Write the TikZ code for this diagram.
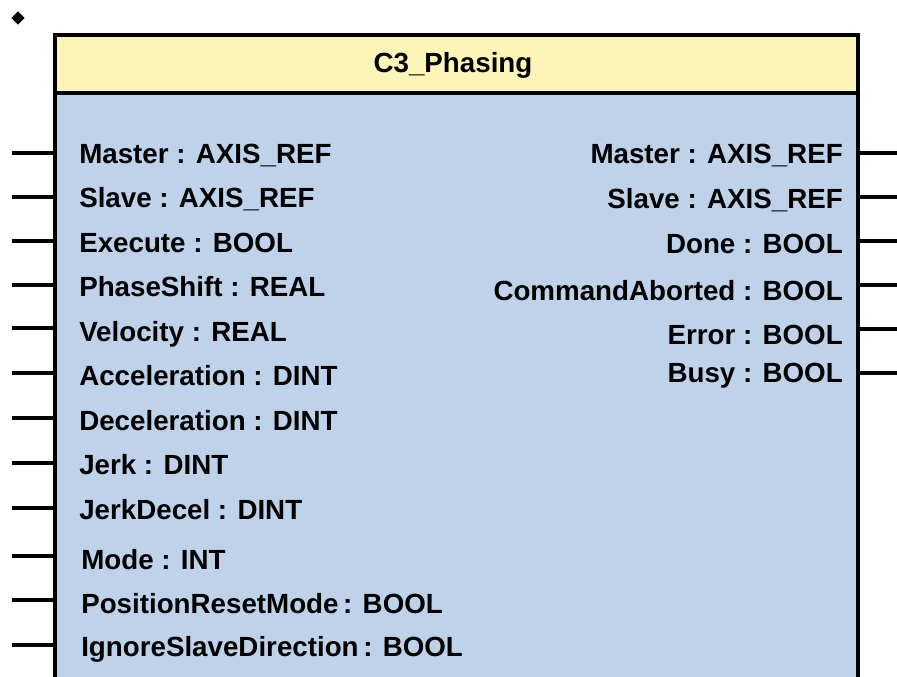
\documentclass[tikz,border=0pt]{standalone}
\usepackage{fontspec}
\setmainfont{Liberation Sans}
\usetikzlibrary{shapes.geometric}
\definecolor{hdr}{HTML}{FDF5B8}
\definecolor{bdy}{HTML}{BED2EA}
\begin{document}
\begin{tikzpicture}[x=0.75pt,y=-0.75pt,
  pin/.style={line width=2.4pt},
  lbl/.style={font=\bfseries\fontsize{20.8}{24}\selectfont, inner sep=0pt},
  lin/.style={lbl, anchor=base west},
  rout/.style={lbl, anchor=base east}]
\useasboundingbox (0,0) rectangle (897,676);
\clip (0,0) rectangle (897,676);
\node[diamond, fill=black, inner sep=0pt, minimum size=10pt] (dia) at (18,18) {};
% body and header
\fill[bdy] (55,93) rectangle (858,700);
\fill[hdr] (55,35) rectangle (858,93);
\draw[line width=2.4pt] (55,700) -- (55,35) -- (858,35) -- (858,700);
\draw[line width=2.4pt] (55,93) -- (858,93);
\node[lbl, anchor=base] (title) at (453,72) {C3\_Phasing};
% left pins
\foreach \y/\t/\ty/\tx [count=\i] in {
  153/{Master : AXIS\_REF}/153/79,
  197/{Slave : AXIS\_REF}/197/79,
  241/{Execute : BOOL}/242/79,
  285/{PhaseShift : REAL}/286/79,
  328/{Velocity : REAL}/331/79,
  373/{Acceleration : DINT}/375/79,
  418/{Deceleration : DINT}/420/79,
  463/{Jerk : DINT}/464/79,
  508/{JerkDecel : DINT}/509/79,
  556/{Mode : INT}/559/81,
  600/{PositionResetMode\,: BOOL}/603/81,
  645/{IgnoreSlaveDirection\,: BOOL}/646/81}{
  \coordinate (li\i) at (12,\y);
  \coordinate (lb\i) at (55,\y);
  \draw[pin] (li\i) -- (lb\i);
  \node[lin] (lt\i) at (\tx,\ty+10) {\t};
}
% right pins
\foreach \y/\t/\ty [count=\i] in {
  153/{Master : AXIS\_REF}/153,
  197/{Slave : AXIS\_REF}/198,
  241/{Done : BOOL}/243,
  285/{CommandAborted : BOOL}/290,
  329/{Error : BOOL}/334,
  373/{Busy : BOOL}/372}{
  \coordinate (ro\i) at (897,\y);
  \coordinate (rb\i) at (858,\y);
  \draw[pin] (rb\i) -- (ro\i);
  \node[rout] (rt\i) at (843,\ty+10) {\t};
}
\end{tikzpicture}
\end{document}
